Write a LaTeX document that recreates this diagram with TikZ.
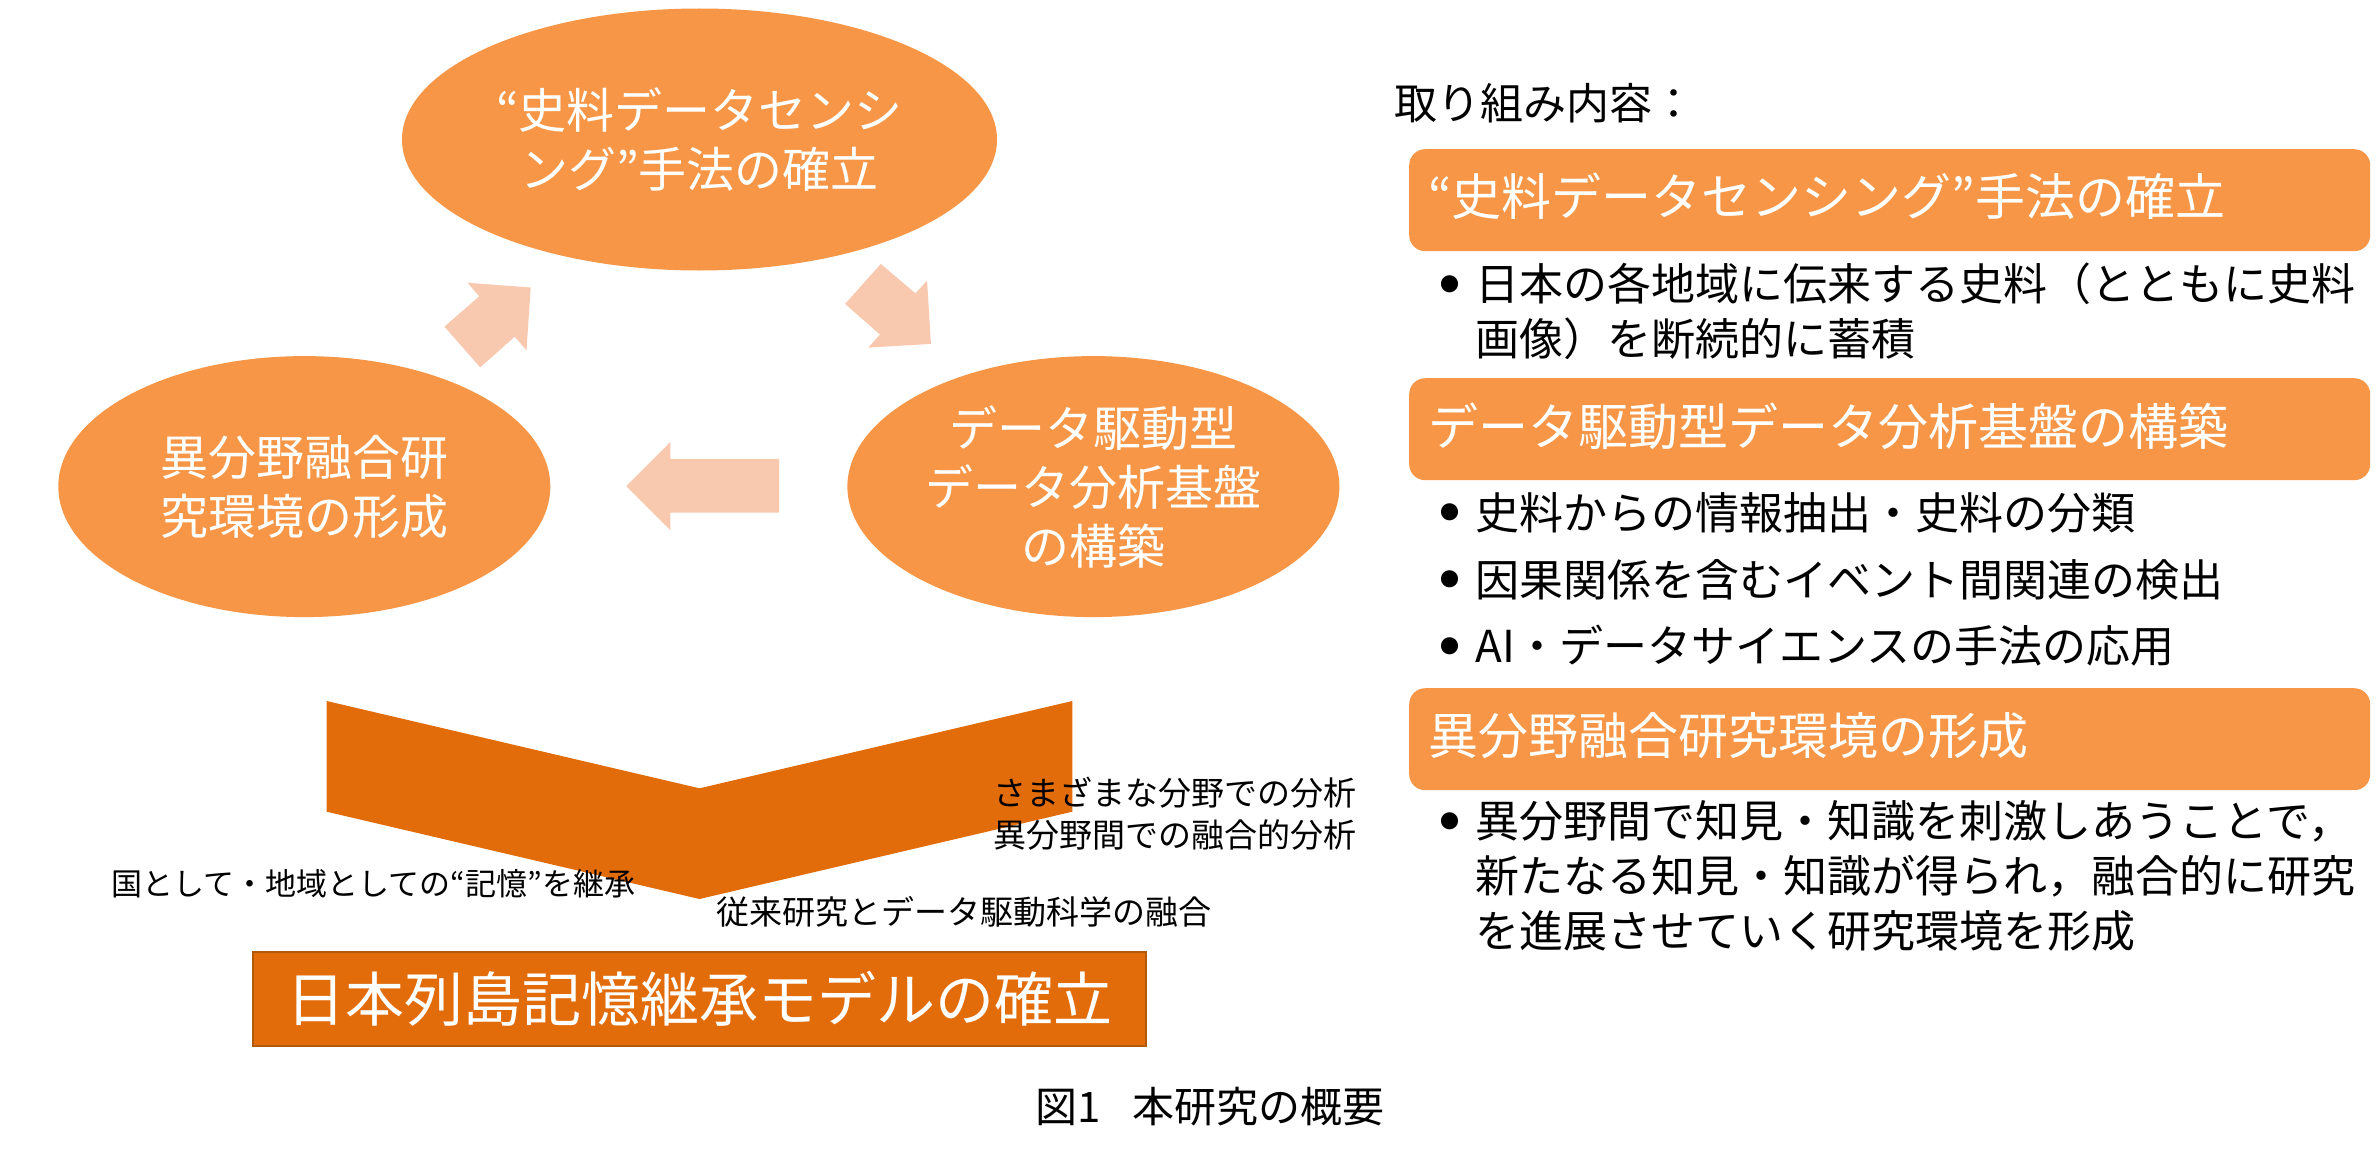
\documentclass[tikz,border=0pt]{standalone}
\usepackage{fontspec}
\setmainfont{Noto Sans CJK JP}
\usetikzlibrary{shapes.geometric}
\definecolor{ellorange}{HTML}{F79646}
\definecolor{arrowpink}{HTML}{F9C9AF}
\definecolor{deeporange}{HTML}{E36C0A}
\definecolor{bannerline}{HTML}{B35A0A}
\tikzset{
  bubble/.style={ellipse, fill=ellorange, text=white, inner sep=0pt, align=center,
    font=\fontsize{48}{59}\selectfont},
  flowarrow/.style={fill=arrowpink},
  panelbox/.style={rounded corners=16pt, fill=ellorange, minimum width=961pt,
    minimum height=102pt, inner sep=0pt, anchor=north west},
  boxtitle/.style={text=white, inner sep=0pt, anchor=base west,
    font=\fontsize{50}{60}\selectfont},
  bullettext/.style={inner sep=0pt, align=left, anchor=base west,
    font=\fontsize{44}{55}\selectfont},
  bulletdot/.style={inner sep=0pt, anchor=center, font=\fontsize{19}{20}\selectfont},
  sidenote/.style={inner sep=0pt, align=left, anchor=base west,
    font=\fontsize{33}{42}\selectfont},
}
\begin{document}
\begin{tikzpicture}[x=1pt,y=-1pt]
\useasboundingbox (0,0) rectangle (2378,1164);

% cycle ellipses
\node[bubble, minimum width=595pt, minimum height=262pt] (sensing) at (699.5,139.5)
  {“史料データセンシ\\ング”手法の確立};
\node[bubble, minimum width=492pt, minimum height=261pt] (fusion) at (304.3,486.6)
  {異分野融合研\\究環境の形成};
\node[bubble, minimum width=492pt, minimum height=261pt] (platform) at (1093.4,486.6)
  {データ駆動型\\データ分析基盤\\の構築};

% block arrows of the cycle
\fill[flowarrow] (467.5,282.8) -- (530.7,287.5) -- (526.5,350.2) -- (514.7,336.7)
  -- (480.2,367.4) -- (444.4,326.6) -- (479.3,296.3) -- cycle;
\fill[flowarrow] (880.8,263.9) -- (915.4,293.3) -- (927.1,280.7) -- (930.9,343.9)
  -- (868.2,347.6) -- (880,334.6) -- (845.1,303.9) -- cycle;
\fill[flowarrow] (670.4,441.9) -- (670.4,458.8) -- (779,458.8) -- (779,512.6)
  -- (670.4,512.6) -- (670.4,530.3) -- (626.2,486.1) -- cycle;

% chevron
\fill[deeporange] (326.7,701) -- (699.5,788.3) -- (1072.3,701) -- (1072.3,811.7)
  -- (699.5,899) -- (326.7,811.7) -- cycle;

% side notes (base anchor = baseline of last line)
\node[sidenote] (various) at (993.6,847.5) {さまざまな分野での分析\\異分野間での融合的分析};
\node[sidenote, font=\fontsize{31}{40}\selectfont] (memory) at (111.5,895.8)
  {国として・地域としての“記憶”を継承};
\node[sidenote] (merge) at (716.7,924.5) {従来研究とデータ駆動科学の融合};

% banner
\node[fill=deeporange, draw=bannerline, line width=2.5pt, minimum width=893pt,
  minimum height=94pt, inner sep=0pt, text=white, font=\fontsize{59}{70}\selectfont]
  (model) at (699.5,999) {日本列島記憶継承モデルの確立};

% caption
\node[inner sep=0pt, anchor=base west, font=\fontsize{42}{50}\selectfont] (caption)
  at (1035,1122) {図1\hspace{32pt}本研究の概要};

% right panel
\node[inner sep=0pt, anchor=base west, font=\fontsize{43}{50}\selectfont] (heading)
  at (1394,119.3) {取り組み内容：};

\node[panelbox] (box1) at (1409,149) {};
\node[boxtitle] (t1) at (1428,215.3) {“史料データセンシング”手法の確立};
\node[bulletdot] (d1) at (1450,284) {●};
\node[bullettext] (b1) at (1475.6,355.7) {日本の各地域に伝来する史料（とともに史料\\画像）を断続的に蓄積};

\node[panelbox] (box2) at (1409,378) {};
\node[boxtitle] (t2) at (1428,445.8) {データ駆動型データ分析基盤の構築};
\node[bulletdot] (d2) at (1450,512.5) {●};
\node[bullettext] (b2) at (1475.6,529.2) {史料からの情報抽出・史料の分類};
\node[bulletdot] (d3) at (1450,579.4) {●};
\node[bullettext] (b3) at (1475.6,596.1) {因果関係を含むイベント間関連の検出};
\node[bulletdot] (d4) at (1450,646.2) {●};
\node[bullettext] (b4) at (1475.6,662.9) {AI・データサイエンスの手法の応用};

\node[panelbox] (box3) at (1409,688) {};
\node[boxtitle] (t3) at (1428,754) {異分野融合研究環境の形成};
\node[bulletdot] (d5) at (1450,821) {●};
\node[bullettext] (b5) at (1475.6,947.7) {異分野間で知見・知識を刺激しあうことで，\\新たなる知見・知識が得られ，融合的に研究\\を進展させていく研究環境を形成};
\end{tikzpicture}
\end{document}
